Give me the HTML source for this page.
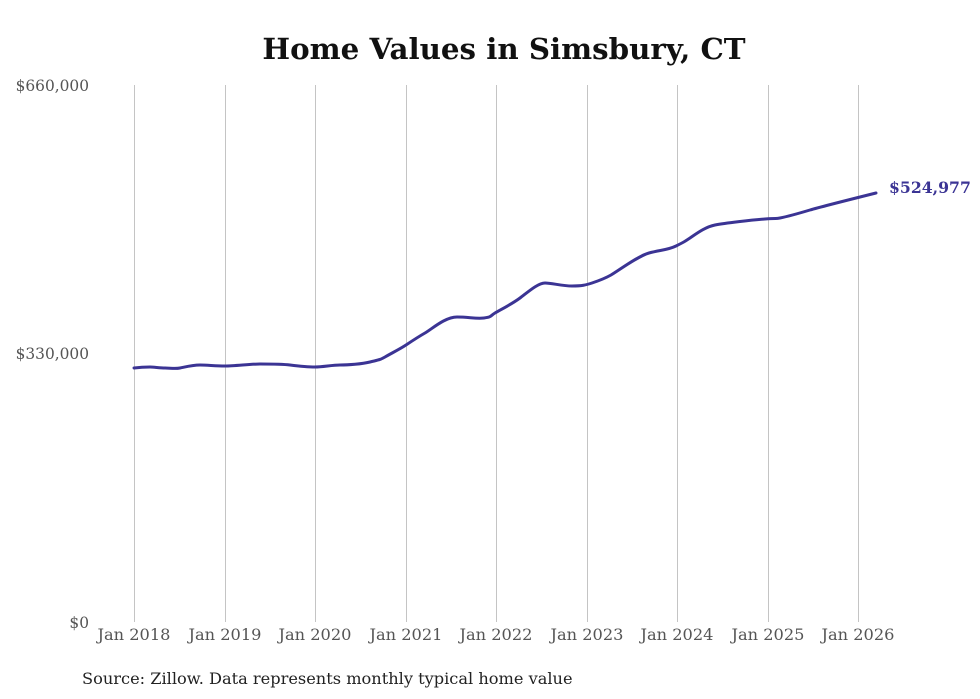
<!DOCTYPE html>
<html><head><meta charset="utf-8"><style>
html,body{margin:0;padding:0;background:#fff;}
</style></head><body>
<svg width="980" height="699" viewBox="0 0 980 699" xmlns="http://www.w3.org/2000/svg" style="display:block">
<rect width="980" height="699" fill="#fff"/>
<text x="504" y="59" text-anchor="middle" font-family="'DejaVu Serif','Liberation Serif',serif" font-weight="bold" font-size="29.3" fill="#111">Home Values in Simsbury, CT</text>
<g stroke="#c4c4c4" stroke-width="1">
<line x1="134.5" y1="85" x2="134.5" y2="622"/>
<line x1="225.5" y1="85" x2="225.5" y2="622"/>
<line x1="315.5" y1="85" x2="315.5" y2="622"/>
<line x1="406.5" y1="85" x2="406.5" y2="622"/>
<line x1="496.5" y1="85" x2="496.5" y2="622"/>
<line x1="587.5" y1="85" x2="587.5" y2="622"/>
<line x1="677.5" y1="85" x2="677.5" y2="622"/>
<line x1="768.5" y1="85" x2="768.5" y2="622"/>
<line x1="858.5" y1="85" x2="858.5" y2="622"/>
</g>
<g font-family="'DejaVu Serif','Liberation Serif',serif" font-size="15.4" fill="#555">
<text x="89" y="91" text-anchor="end">$660,000</text>
<text x="89" y="359" text-anchor="end">$330,000</text>
<text x="89" y="628" text-anchor="end">$0</text>
<g text-anchor="middle" font-size="16.2">
<text x="134" y="640">Jan 2018</text>
<text x="225" y="640">Jan 2019</text>
<text x="315" y="640">Jan 2020</text>
<text x="406" y="640">Jan 2021</text>
<text x="496" y="640">Jan 2022</text>
<text x="587" y="640">Jan 2023</text>
<text x="677" y="640">Jan 2024</text>
<text x="768" y="640">Jan 2025</text>
<text x="858" y="640">Jan 2026</text>
</g>
</g>
<path d="M134,368 C142,367 146,367 150,367 S160,368 165,368 S175,369 180,368 S192,365 200,365 S215,366 225,366 S250,364 260,364 S282,364 290,365 S307,367 315,367 S332,365 340,365 S362,364 370,362 S380,360 385,357 S400,349 406,345 S418,337 425,333 S445,317 457,317 S476,319 484,318 S490,316 495,313 S512,304 520,298 S538,283 545,283 S562,286 572,286 S586,285 592,283 S604,279 611,275 S638,256 649,253 S668,250 676,246 S684,242 690,238 S705,227 715,225 S752,220 765,219 S775,219 780,218 S800,213 810,210 S860,197 876,193" fill="none" stroke="#3b3494" stroke-width="3" stroke-linecap="round"/>
<text x="889" y="193" font-family="'DejaVu Serif','Liberation Serif',serif" font-weight="bold" font-size="15.7" fill="#3b3494">$524,977</text>
<text x="82" y="684" font-family="'DejaVu Serif','Liberation Serif',serif" font-size="16.2" fill="#222">Source: Zillow. Data represents monthly typical home value</text>
</svg>
</body></html>
